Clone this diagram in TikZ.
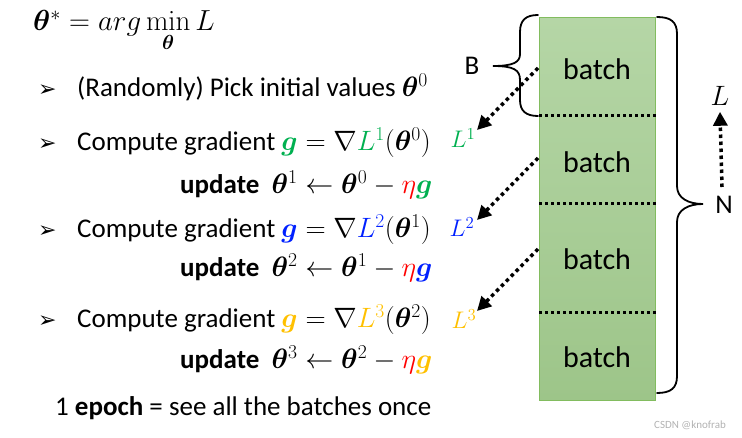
\RequirePackage{fix-cm}
\documentclass[tikz,border=0pt]{standalone}
\usepackage{amsmath}
\usepackage{bm}
\usepackage[no-math]{fontspec}
\setmainfont{Carlito}
\newfontfamily\bulletfont{DejaVu Sans}
\usepackage{tikz}
\usetikzlibrary{arrows.meta,positioning}

\definecolor{gradgreen}{RGB}{0,176,80}
\definecolor{gradblue}{RGB}{0,32,255}
\definecolor{gradgold}{RGB}{255,192,0}
\definecolor{etared}{RGB}{255,0,0}
\definecolor{batchtop}{RGB}{181,214,166}
\definecolor{batchbot}{RGB}{157,197,137}
\definecolor{batchedge}{RGB}{130,188,95}

\newcommand{\vth}{\bm{\theta}}
\newcommand{\bul}{\makebox[39pt][l]{\bulletfont\fontsize{22}{22}\selectfont ➢}}
\newcommand{\mth}[1]{{\fontsize{28}{33}\selectfont$#1$}}

\tikzset{
  txt/.style={anchor=west, inner sep=0pt, font=\fontsize{27}{32}\selectfont},
  batchlbl/.style={font=\fontsize{30}{36}\selectfont},
  sidelbl/.style={font=\fontsize{27}{32}\selectfont, inner sep=0pt},
  losslbl/.style={font=\fontsize{24}{28}\selectfont, inner sep=0pt},
  lossarrow/.style={line width=3.5pt, dash pattern=on 3.5pt off 3.5pt,
    -{Triangle[length=14pt,width=14pt]}},
  sepline/.style={line width=3pt, dash pattern=on 3pt off 3pt},
  bracepath/.style={line width=1.8pt, line cap=round}
}

\begin{document}
\begin{tikzpicture}[x=1pt,y=-1pt]
  \useasboundingbox (0,0) rectangle (742,438);

  % update rule, step by step
  \node[txt, anchor=base west] (goal) at (33,31) {{\fontsize{29}{34}\selectfont$\vth^{*} = arg\min\limits_{\vth} L$}};
  \node[txt] (init) at (38,87) {\bul(Randomly) Pick initial values \mth{\vth^{0}}};
  \node[txt] (grad1) at (38,143) {\bul Compute gradient \mth{\textcolor{gradgreen}{\bm{g}} = \nabla\textcolor{gradgreen}{L^{1}}(\vth^{0})}};
  \node[txt] (upd1) at (180,185) {\textbf{update}\ \ \mth{\vth^{1} \leftarrow \vth^{0} - \textcolor{etared}{\eta}\textcolor{gradgreen}{\bm{g}}}};
  \node[txt] (grad2) at (38,230) {\bul Compute gradient \mth{\textcolor{gradblue}{\bm{g}} = \nabla\textcolor{gradblue}{L^{2}}(\vth^{1})}};
  \node[txt] (upd2) at (180,268) {\textbf{update}\ \ \mth{\vth^{2} \leftarrow \vth^{1} - \textcolor{etared}{\eta}\textcolor{gradblue}{\bm{g}}}};
  \node[txt] (grad3) at (38,320) {\bul Compute gradient \mth{\textcolor{gradgold}{\bm{g}} = \nabla\textcolor{gradgold}{L^{3}}(\vth^{2})}};
  \node[txt] (upd3) at (180,360) {\textbf{update}\ \ \mth{\vth^{3} \leftarrow \vth^{2} - \textcolor{etared}{\eta}\textcolor{gradgold}{\bm{g}}}};
  \node[txt] (epoch) at (55,408) {1 \textbf{epoch} = see all the batches once};

  % the data split into batches
  \node[draw=batchedge, line width=0.8pt, top color=batchtop, bottom color=batchbot,
    minimum width=116pt, minimum height=383pt, anchor=north west, inner sep=0pt] (stack) at (539,17) {};
  \node[batchlbl] (b1) at (597,69) {batch};
  \node[batchlbl] (b2) at (597,162) {batch};
  \node[batchlbl] (b3) at (597,259) {batch};
  \node[batchlbl] (b4) at (597,357) {batch};
  \coordinate (d1) at (0,116);
  \coordinate (d2) at (0,204);
  \coordinate (d3) at (0,313);
  \foreach \d in {d1,d2,d3}
    \draw[sepline] (stack.west |- \d) -- (stack.east |- \d);

  % braces
  \draw[bracepath] (538,15) .. controls (526,15) and (520,20) .. (520,32)
    -- (520,54) .. controls (520,62) and (514,66) .. (493,66)
    .. controls (514,66) and (520,70) .. (520,80)
    -- (520,100) .. controls (520,111) and (526,116) .. (538,116);
  \node[sidelbl] (blbl) at (472,66) {B};
  \draw[bracepath] (657,17) .. controls (671,17) and (677,22) .. (677,34)
    -- (677,186) .. controls (677,198) and (688,204) .. (703,204)
    .. controls (688,204) and (677,210) .. (677,222)
    -- (677,376) .. controls (677,388) and (671,393) .. (657,393);
  \node[sidelbl] (nlbl) at (724,205) {N};

  % losses of the batches
  \coordinate (s1) at (538,68);
  \coordinate (s2) at (538,158);
  \coordinate (s3) at (538,249);
  \coordinate (t1) at (477,130);
  \coordinate (t2) at (477,220);
  \coordinate (t3) at (477,311);
  \node[losslbl, text=gradgreen] (l1) at (463,138) {$L^{1}$};
  \node[losslbl, text=gradblue] (l2) at (462,227) {$L^{2}$};
  \node[losslbl, text=gradgold] (l3) at (464,319) {$L^{3}$};
  \draw[lossarrow] (s1) -- (t1);
  \draw[lossarrow] (s2) -- (t2);
  \draw[lossarrow] (s3) -- (t3);

  \node[losslbl, font=\fontsize{28}{32}\selectfont] (ltot) at (720,96) {$L$};
  \coordinate (lfoot) at (722,187);
  \draw[lossarrow] (lfoot) -- ([yshift=-6pt]ltot.south);

  \node[font=\fontsize{11}{13}\selectfont, text=black!30] (mark) at (690,425) {CSDN @knofrab};
\end{tikzpicture}
\end{document}
